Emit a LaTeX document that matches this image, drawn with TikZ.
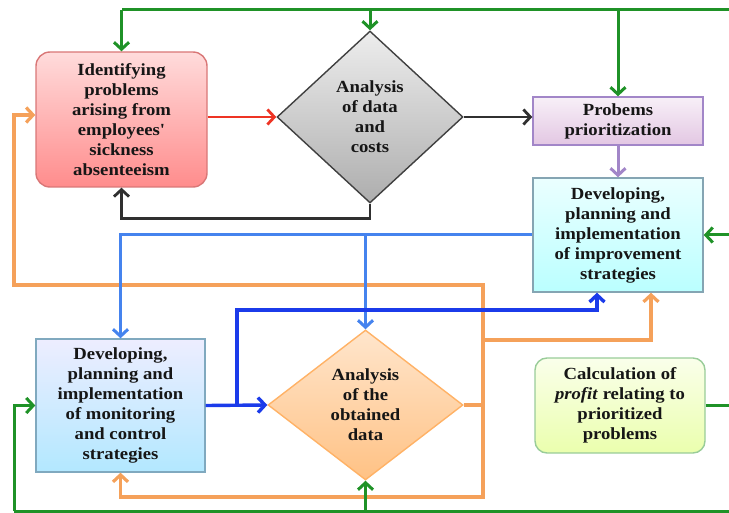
\documentclass[tikz,border=0pt]{standalone}
\usepackage{fontspec}
\setmainfont{Liberation Serif}[FakeStretch=1.1, Ligatures=TeXOff]
\usetikzlibrary{shapes.geometric,arrows.meta,calc}

\definecolor{flowgreen}{HTML}{1F9227}
\definecolor{floworange}{HTML}{F5A15A}
\definecolor{flowblue}{HTML}{4583EE}
\definecolor{flowdeepblue}{HTML}{1B3BEA}
\definecolor{flowred}{HTML}{EE3424}
\definecolor{flowblack}{HTML}{303030}
\definecolor{flowpurple}{HTML}{A286C8}
\definecolor{flowtext}{HTML}{161616}

\tikzset{
  box/.style={draw, line width=1.4pt, align=center, inner sep=2pt,
    font=\fontsize{17}{20}\selectfont\bfseries, text=flowtext},
  redbox/.style={box, rounded corners=14pt, draw=red!45!white!85!black,
    top color=red!14, bottom color=red!45},
  graybox/.style={box, diamond, draw=black!75, top color=black!7, bottom color=black!32},
  purplebox/.style={box, draw=flowpurple, top color=violet!6, bottom color=violet!22},
  cyanbox/.style={box, draw=cyan!45!black!60!white, top color=cyan!8, bottom color=cyan!27},
  bluebox/.style={box, draw=blue!35!cyan!50!black!50!white, top color=blue!7, bottom color=blue!30!cyan!30},
  orangebox/.style={box, diamond, draw=orange!60!white, top color=orange!20, bottom color=orange!48},
  greenbox/.style={box, rounded corners=12pt, draw=green!50!black!40!white,
    top color=lime!8, bottom color=lime!32},
  tip/.style={-{Straight Barb[length=7pt,width=15pt]}},
  gline/.style={draw=flowgreen, line width=3pt},
  oline/.style={draw=floworange, line width=3.2pt},
  bline/.style={draw=flowblue, line width=3pt},
  dline/.style={draw=flowdeepblue, line width=3.4pt},
  kline/.style={draw=flowblack, line width=2.8pt},
}

\begin{document}
\begin{tikzpicture}[x=1pt, y=-1pt]
\useasboundingbox (0,0) rectangle (729,513);

% process nodes
\node[redbox, minimum width=171pt, minimum height=135pt] (ident) at (121.5,119.5)
  {Identifying\\problems\\arising from\\employees'\\sickness\\absenteeism};
\node[graybox, minimum width=186pt, minimum height=172pt] (dcost) at (370,117)
  {Analysis\\of data\\and\\costs};
\node[purplebox, minimum width=170pt, minimum height=48pt] (prior) at (618,121)
  {Probems\\prioritization};
\node[cyanbox, minimum width=170pt, minimum height=114pt] (improve) at (618,235)
  {Developing,\\planning and\\implementation\\of improvement\\strategies};
\node[bluebox, minimum width=169pt, minimum height=133pt] (monitor) at (120.5,405.5)
  {Developing,\\planning and\\implementation\\of monitoring\\and control\\strategies};
\node[orangebox, minimum width=195pt, minimum height=150pt] (obtained) at (365.5,405)
  {Analysis\\of the\\obtained\\data};
\node[greenbox, minimum width=170pt, minimum height=95pt] (calc) at (620,405.5)
  {Calculation of\\\textit{profit} relating to\\prioritized\\problems};

% junction points of the feedback loops
\coordinate (gTR) at (731,10);
\coordinate (gBR) at (731,511);
\coordinate (gBL) at (14,511);
\coordinate (kB) at ($(dcost.south)+(0,15)$);
\coordinate (oJ) at (483,405);
\coordinate (oTop) at (483,285);
\coordinate (oLeft) at (14,285);
\coordinate (oBr) at (483,340);
\coordinate (oBot) at (483,497);
\coordinate (dJ) at (237,405);
\coordinate (dTop) at (597,310);
\coordinate (bJ) at (obtained.north |- improve.west);

% orange loop from the obtained data analysis
\draw[oline, tip] (oJ) -- (oTop) -- (oLeft) -- (oLeft |- 0,115) -- (ident.west |- 0,115);
\draw[oline] (obtained.east) -- (oJ);
\draw[oline, tip] (oJ) -- (oBot) -| (monitor.south);
\draw[oline, tip] (oBr) -| (improve.south -| 651,0);

% light blue lines from the improvement strategies
\draw[bline, tip] (improve.west) -| (monitor.north);
\draw[bline, tip] (bJ) -- (obtained.north);

% deep blue lines from the monitoring strategies
\draw[dline, tip] (monitor.east) -- (obtained.west);
\draw[dline, tip] (dJ) |- (dTop) -- (dTop |- improve.south);

% first analysis loop
\draw[draw=flowred, line width=2.8pt, tip] (ident.east |- dcost.west) -- (dcost.west);
\draw[kline, tip] (dcost.east) -- (prior.west |- dcost.east);
\draw[kline, tip] (dcost.south) -- (kB) -| (ident.south);
\draw[draw=flowpurple, line width=3pt, tip] (prior.south) -- (improve.north);

% green profit loop around everything
\draw[gline] (calc.east) -- (calc.east -| gTR);
\draw[gline] (gTR) -- (gBR) -- (gBL);
\draw[gline] (gTR) -- (ident.north |- gTR);
\draw[gline, tip] (ident.north |- gTR) -- (ident.north);
\draw[gline, tip] (dcost.north |- gTR) -- (dcost.north);
\draw[gline, tip] (prior.north |- gTR) -- (prior.north);
\draw[gline, tip] (improve.east -| gTR) -- (improve.east);
\draw[gline, tip] (gBL) -- (gBL |- monitor.west) -- (monitor.west);
\draw[gline, tip] (obtained.south |- gBR) -- (obtained.south);
\end{tikzpicture}
\end{document}
